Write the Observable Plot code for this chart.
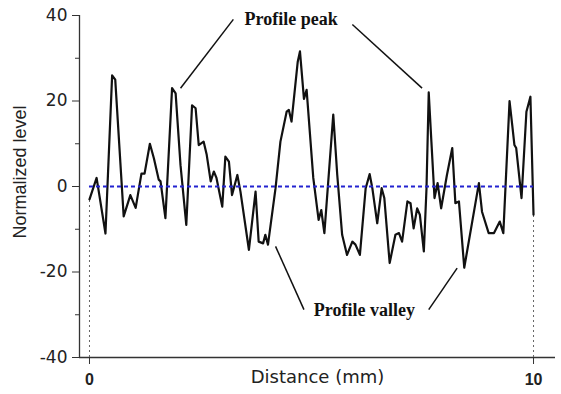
<!DOCTYPE html>
<html><head><meta charset="utf-8">
<script src="https://cdn.jsdelivr.net/npm/d3@7"></script>
<script src="https://cdn.jsdelivr.net/npm/@observablehq/plot@0.6"></script>
<style>body{margin:0;background:#fff} svg{display:block}</style>
</head><body><div id="chart"></div>
<script>
// Profile samples: distance (mm) and normalized level
const distance = [0.00,0.16,0.36,0.51,0.58,0.77,0.92,1.04,1.17,1.24,1.36,1.45,1.56,1.60,1.71,1.86,1.94,2.05,2.18,2.31,2.39,2.46,2.57,2.64,2.73,2.80,2.86,2.99,3.06,3.14,3.21,3.33,3.40,3.59,3.74,3.81,3.91,3.96,4.02,4.19,4.30,4.44,4.49,4.55,4.69,4.74,4.83,4.89,5.04,5.16,5.22,5.29,5.49,5.58,5.69,5.80,5.92,5.99,6.09,6.22,6.31,6.37,6.48,6.58,6.64,6.76,6.89,6.97,7.04,7.16,7.23,7.30,7.38,7.44,7.53,7.59,7.64,7.70,7.77,7.84,7.92,8.05,8.17,8.24,8.32,8.44,8.77,8.84,8.99,9.11,9.24,9.32,9.46,9.52,9.57,9.61,9.73,9.84,9.93,10.00];
const level = [-3,2,-11,26,25,-7,-2,-5,3,3,10,6.6,1.6,1.2,-7.4,23,21.8,5,-9,19,18.3,9.7,10.5,7.4,1.2,3.5,2,-4.7,7,5.8,-2,2.7,-1.2,-14.8,-1.2,-12.9,-13.3,-11.3,-13.6,-0.4,10.5,17.5,17.9,15.2,29.2,31.6,20.5,22.6,2,-7.8,-5.5,-10.9,16.8,2.7,-11.3,-16,-12.9,-13.6,-16,-0.4,2.9,-0.4,-8.6,-0.4,-2.7,-17.9,-11.3,-10.9,-12.9,-3.5,-3.9,-9.8,-5.1,-6.6,-15.2,-0.4,22,10.5,-2.7,0.8,-5.1,2.7,9,-3.9,-3.5,-19,0.8,-5.9,-10.9,-10.9,-8.2,-10.9,20,14.4,9.7,9,-2.7,17.5,21,-6.6];

// Axis ticks
const yMajorTicks = [-40,-20,0,20,40];
const yMinorTicks = [-30,-10,10,30];
const xTicks = [0,10];
const xDomain = [-0.225,10.495];
const yDomain = [-40,40];

// Annotations (leader lines and labels)
const annotX1 = [3.24,5.92,4.19,8.28];
const annotY1 = [39.1,37.9,-14.0,-19.1];
const annotX2 = [2.05,7.49,4.83,7.64];
const annotY2 = [23.0,23.0,-28.8,-28.8];
const annotText = ["Profile peak","Profile valley"];
const annotTextX = [4.54,6.19];
const annotTextY = [39.1,-29.0];

const profile = distance.map((d,i)=>({x:d, y:level[i]}));
const ends = [profile[0], profile[profile.length-1]];

const chart = Plot.plot({
  width:561, height:394,
  marginLeft:79, marginRight:6, marginTop:15, marginBottom:37,
  x:{domain:xDomain, label:null},
  y:{domain:yDomain, label:null},
  style:{background:"white", fontFamily:"DejaVu Sans", color:"#222"},
  marks:[
    Plot.ruleY([yDomain[0]], {stroke:"#333", strokeWidth:1.3}),
    Plot.ruleX([xDomain[0]], {stroke:"#333", strokeWidth:1.3}),
    Plot.axisY(yMajorTicks, {tickSize:7, tickPadding:5, fontSize:17, tickFormat:d=>String(d), label:null, stroke:"#333"}),
    Plot.axisY(yMinorTicks, {tickSize:4, tickFormat:()=>"", label:null, stroke:"#333"}),
    Plot.axisX(xTicks, {tickSize:7, tickPadding:9, fontSize:16, fontWeight:"bold", fontFamily:"Liberation Sans", tickFormat:d=>String(d), label:null, stroke:"#333"}),
    Plot.ruleX(ends, {x:"x", y1:yDomain[0], y2:"y", stroke:"#666", strokeDasharray:"2,3", strokeWidth:1}),
    Plot.line(profile, {x:"x", y:"y", stroke:"#111", strokeWidth:2.2, strokeLinejoin:"round"}),
    Plot.ruleY([0], {x1:xTicks[0], x2:xTicks[1], stroke:"#2323d0", strokeWidth:2, strokeDasharray:"4,3"}),
    Plot.link(annotX1, {x1:annotX1, y1:annotY1, x2:annotX2, y2:annotY2, stroke:"#111", strokeWidth:1.5}),
    Plot.text(annotText, {x:annotTextX, y:annotTextY, fontFamily:"Liberation Serif", fontWeight:"bold", fontSize:18, fill:"#111"}),
    Plot.text(["Distance (mm)"], {frameAnchor:"bottom", dy:25, fontSize:18, fill:"#222"}),
    Plot.text(["Normalized level"], {frameAnchor:"left", textAnchor:"middle", rotate:-90, dx:-59.5, dy:-14.5, fontSize:18, fontFamily:"Liberation Sans", fill:"#222"})
  ]
});
document.getElementById("chart").appendChild(chart);
</script>
</body></html>
